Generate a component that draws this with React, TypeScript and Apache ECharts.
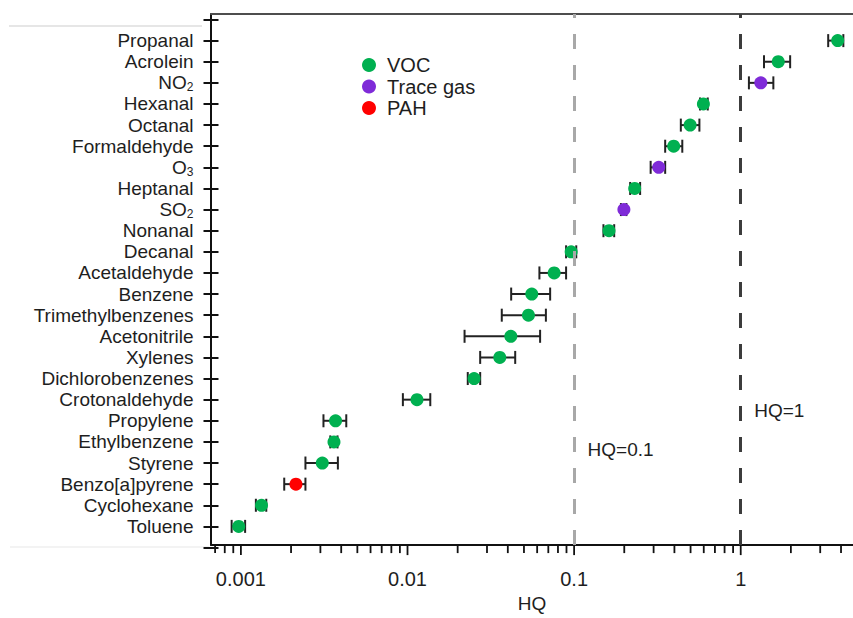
import React, { useEffect, useRef } from 'react';
import * as echarts from 'echarts';

const categories = [
  'Propanal', 'Acrolein', 'NO2', 'Hexanal', 'Octanal', 'Formaldehyde', 'O3', 'Heptanal',
  'SO2', 'Nonanal', 'Decanal', 'Acetaldehyde', 'Benzene', 'Trimethylbenzenes', 'Acetonitrile',
  'Xylenes', 'Dichlorobenzenes', 'Crotonaldehyde', 'Propylene', 'Ethylbenzene', 'Styrene',
  'Benzo[a]pyrene', 'Cyclohexane', 'Toluene',
];
const groups = [
  'VOC', 'VOC', 'Trace gas', 'VOC', 'VOC', 'VOC', 'Trace gas', 'VOC',
  'Trace gas', 'VOC', 'VOC', 'VOC', 'VOC', 'VOC', 'VOC',
  'VOC', 'VOC', 'VOC', 'VOC', 'VOC', 'VOC',
  'PAH', 'VOC', 'VOC',
];
const hqMean = [
  3.82, 1.68, 1.32, 0.597, 0.497, 0.396, 0.322, 0.231,
  0.199, 0.162, 0.096, 0.0759, 0.0557, 0.0532, 0.0417,
  0.0358, 0.0251, 0.0114, 0.0037, 0.00362, 0.00308,
  0.00214, 0.00133, 0.00097,
];
const hqLow = [
  3.35, 1.38, 1.12, 0.57, 0.437, 0.352, 0.288, 0.217,
  0.191, 0.15, 0.0895, 0.0619, 0.0419, 0.0368, 0.022,
  0.0273, 0.023, 0.00938, 0.00313, 0.00344, 0.00244,
  0.00182, 0.00123, 0.00088,
];
const hqHigh = [
  4.13, 1.98, 1.57, 0.634, 0.565, 0.446, 0.352, 0.249,
  0.206, 0.174, 0.103, 0.0895, 0.0718, 0.0677, 0.0625,
  0.0443, 0.0273, 0.0137, 0.00429, 0.0038, 0.00382,
  0.00244, 0.00142, 0.00106,
];
const seriesNames = ['VOC', 'Trace gas', 'PAH'];
const seriesColors = ['#00B050', '#7F2BD8', '#FF0000'];
const majorTicks = [0.001, 0.01, 0.1, 1];
const minorTicks = [
  0.0007, 0.0008, 0.0009,
  0.002, 0.003, 0.004, 0.005, 0.006, 0.007, 0.008, 0.009,
  0.02, 0.03, 0.04, 0.05, 0.06, 0.07, 0.08, 0.09,
  0.2, 0.3, 0.4, 0.5, 0.6, 0.7, 0.8, 0.9,
  2, 3, 4,
];
const refLines = [0.1, 1];
const refLineColors = ['#a8a8a8', '#3c3c3c'];
const refLabels = ['HQ=0.1', 'HQ=1'];
const refLabelRows = [19.34, 17.49];

const X_MIN = 6.615e-4;
const X_MAX = 4.72;

const subscripted: Record<string, string> = {
  NO2: '{n|NO}{s|2}',
  O3: '{n|O}{s|3}',
  SO2: '{n|SO}{s|2}',
};

const TEXT = '#1e1e1e';
const FONT = '"Liberation Sans", Arial, Helvetica, sans-serif';

function formatMajor(v: number): string {
  const e = Math.log10(v);
  const r = Math.round(e);
  if (Math.abs(e - r) > 1e-6) return '';
  if (majorTicks.every((m) => Math.abs(Math.log10(m) - r) > 1e-6)) return '';
  return r < 0 ? Math.pow(10, r).toFixed(-r) : String(Math.pow(10, r));
}

export default function App() {
  const ref = useRef<HTMLDivElement>(null);

  useEffect(() => {
    const chart = echarts.init(ref.current!, undefined, { renderer: 'svg' });

    const scatterSeries = seriesNames.map((name, k) => ({
      name,
      type: 'scatter',
      xAxisIndex: 0,
      yAxisIndex: 0,
      symbol: 'circle',
      symbolSize: 13,
      z: 4,
      itemStyle: { color: seriesColors[k], opacity: 1 },
      data: categories
        .map((_, i) => (groups[i] === name ? [hqMean[i], i] : null))
        .filter((d) => d !== null),
    }));

    const errorData = categories.map((_, i) => [hqLow[i], hqHigh[i], i]);
    const tickData = [
      ...majorTicks.map((v) => [v, 1]),
      ...minorTicks.map((v) => [v, 0]),
    ];

    const option: any = {
      animation: false,
      backgroundColor: '#ffffff',
      textStyle: { fontFamily: FONT },
      grid: [
        { left: 211, right: 0, top: 19.5, height: 528, containLabel: false },
        { left: 211, right: 0, top: 14, height: 537, containLabel: false },
      ],
      legend: {
        data: seriesNames,
        orient: 'vertical',
        left: 357,
        top: 50,
        padding: 5,
        itemWidth: 14,
        itemHeight: 14,
        itemGap: 1.5,
        icon: 'circle',
        textStyle: { fontSize: 20, color: TEXT, fontFamily: FONT, padding: [0, 0, 0, 6] },
      },
      xAxis: [
        {
          gridIndex: 0,
          type: 'log',
          min: X_MIN,
          max: X_MAX,
          show: false,
        },
        {
          gridIndex: 1,
          type: 'log',
          min: X_MIN,
          max: X_MAX,
          position: 'bottom',
          axisLine: { show: true, lineStyle: { color: '#111', width: 2 } },
          axisTick: { show: false },
          minorTick: { show: false },
          splitLine: { show: false },
          axisLabel: {
            show: true,
            fontSize: 20,
            color: TEXT,
            fontFamily: FONT,
            margin: 24,
            showMinLabel: false,
            showMaxLabel: false,
            formatter: (v: number) => formatMajor(v),
          },
          name: 'HQ',
          nameLocation: 'middle',
          nameGap: 46,
          nameTextStyle: { fontSize: 19, color: TEXT, fontFamily: FONT },
        },
        {
          gridIndex: 1,
          type: 'value',
          position: 'top',
          min: 0,
          max: 1,
          axisLine: { show: true, lineStyle: { color: '#4d4d4d', width: 2 } },
          axisTick: { show: false },
          axisLabel: { show: false },
          splitLine: { show: false },
        },
      ],
      yAxis: [
        {
          gridIndex: 0,
          type: 'value',
          position: 'left',
          inverse: true,
          min: -1,
          max: 24,
          interval: 1,
          axisLine: { show: false },
          axisTick: { show: true, inside: false, length: 7.5, lineStyle: { color: '#111', width: 2 } },
          splitLine: { show: false },
          axisLabel: {
            show: true,
            margin: 17.5,
            fontSize: 19,
            color: TEXT,
            fontFamily: FONT,
            formatter: (v: number) => {
              const name = categories[Math.round(v)];
              if (name === undefined || Math.abs(v - Math.round(v)) > 1e-6) return '';
              return subscripted[name] || name;
            },
            rich: {
              n: { fontSize: 19, color: TEXT, fontFamily: FONT, lineHeight: 21 },
              s: { fontSize: 12, color: TEXT, fontFamily: FONT, lineHeight: 11, verticalAlign: 'bottom' },
            },
          },
        },
        {
          gridIndex: 0,
          type: 'value',
          position: 'left',
          inverse: true,
          min: -1,
          max: 24,
          interval: 1,
          axisLine: { show: false },
          axisTick: { show: true, inside: true, length: 7.5, lineStyle: { color: '#111', width: 2 } },
          axisLabel: { show: false },
          splitLine: { show: false },
        },
        {
          gridIndex: 1,
          type: 'value',
          position: 'left',
          min: 0,
          max: 1,
          axisLine: { show: true, lineStyle: { color: '#111', width: 2 } },
          axisTick: { show: false },
          axisLabel: { show: false },
          splitLine: { show: false },
        },
      ],
      series: [
        {
          name: 'errorbars',
          type: 'custom',
          xAxisIndex: 0,
          yAxisIndex: 0,
          z: 2,
          silent: true,
          encode: { x: [0, 1], y: 2 },
          data: errorData,
          renderItem: (params: any, api: any) => {
            const lo = api.coord([api.value(0), api.value(2)]);
            const hi = api.coord([api.value(1), api.value(2)]);
            const h = 6.5;
            const style = { stroke: '#222', lineWidth: 2 };
            return {
              type: 'group',
              children: [
                { type: 'line', shape: { x1: lo[0], y1: lo[1], x2: hi[0], y2: hi[1] }, style },
                { type: 'line', shape: { x1: lo[0], y1: lo[1] - h, x2: lo[0], y2: lo[1] + h }, style },
                { type: 'line', shape: { x1: hi[0], y1: hi[1] - h, x2: hi[0], y2: hi[1] + h }, style },
              ],
            };
          },
        },
        ...scatterSeries,
        {
          name: 'xticks',
          type: 'custom',
          xAxisIndex: 1,
          yAxisIndex: 2,
          clip: false,
          silent: true,
          z: 5,
          encode: { x: 0, y: 1 },
          data: tickData,
          renderItem: (params: any, api: any) => {
            const p = api.coord([api.value(0), 0]);
            const len = api.value(1) ? 10 : 8;
            return {
              type: 'line',
              shape: { x1: p[0], y1: p[1], x2: p[0], y2: p[1] + len },
              style: { stroke: '#111', lineWidth: 1.8 },
            };
          },
          markLine: {
            silent: true,
            symbol: ['none', 'none'],
            label: { show: false },
            data: refLines.map((v, k) => ({
              xAxis: v,
              lineStyle: { color: refLineColors[k], width: 3, type: [15, 16] },
            })),
          },
        },
        {
          name: 'refLabels',
          type: 'scatter',
          xAxisIndex: 0,
          yAxisIndex: 0,
          data: [],
          silent: true,
          markPoint: {
            silent: true,
            symbol: 'circle',
            symbolSize: 1,
            itemStyle: { color: 'rgba(0,0,0,0)' },
            label: {
              show: true,
              position: 'right',
              distance: 13,
              fontSize: 19,
              color: TEXT,
              fontFamily: FONT,
              formatter: (p: any) => p.name,
            },
            data: refLines.map((v, k) => ({ name: refLabels[k], coord: [v, refLabelRows[k]] })),
          },
        },
      ],
      graphic: [
        {
          type: 'line',
          silent: true,
          shape: { x1: 9, y1: 26, x2: 202, y2: 26 },
          style: { stroke: '#dedede', lineWidth: 1.5 },
        },
        {
          type: 'line',
          silent: true,
          shape: { x1: 10, y1: 547, x2: 209, y2: 547 },
          style: { stroke: '#efefef', lineWidth: 1.5 },
        },
      ],
    };

    chart.setOption(option);
    return () => chart.dispose();
  }, []);

  return (
    <div
      ref={ref}
      style={{ position: 'fixed', left: 0, top: 0, width: 853, height: 618, background: '#fff' }}
    />
  );
}
